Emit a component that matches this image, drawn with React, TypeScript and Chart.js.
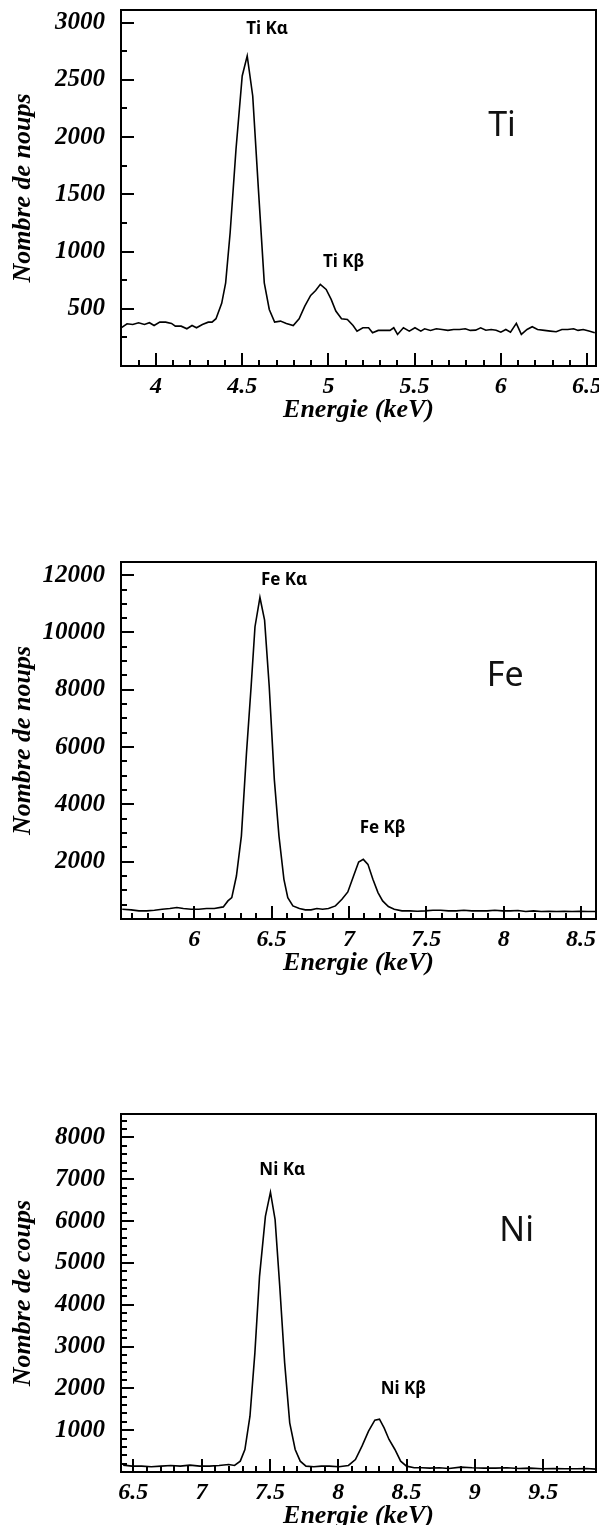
import React, { useEffect, useRef } from 'react';
import { Chart, registerables } from 'chart.js';

Chart.register(...registerables);

// ---------- Ti spectrum ----------
const TI_ENERGY = [3.798, 3.832, 3.865, 3.899, 3.933, 3.962, 3.989, 4.022, 4.056, 4.09, 4.112, 4.146, 4.179, 4.209, 4.235, 4.269, 4.303, 4.325, 4.348, 4.381, 4.404, 4.43, 4.464, 4.5, 4.529, 4.561, 4.594, 4.628, 4.657, 4.688, 4.722, 4.756, 4.796, 4.83, 4.863, 4.897, 4.926, 4.953, 4.987, 5.016, 5.043, 5.076, 5.11, 5.143, 5.166, 5.2, 5.233, 5.256, 5.289, 5.323, 5.357, 5.379, 5.401, 5.435, 5.469, 5.502, 5.536, 5.558, 5.592, 5.626, 5.659, 5.693, 5.726, 5.76, 5.794, 5.823, 5.854, 5.883, 5.913, 5.944, 5.973, 6.0, 6.029, 6.056, 6.09, 6.119, 6.152, 6.182, 6.213, 6.253, 6.287, 6.321, 6.354, 6.388, 6.422, 6.448, 6.478, 6.511, 6.545];
const TI_COUNTS = [334, 369, 363, 378, 363, 378, 354, 383, 383, 372, 348, 348, 325, 354, 334, 363, 383, 383, 413, 547, 727, 1164, 1893, 2534, 2709, 2359, 1543, 727, 494, 383, 392, 372, 354, 413, 523, 617, 660, 713, 669, 582, 480, 413, 407, 354, 305, 334, 334, 290, 311, 311, 311, 334, 276, 334, 305, 334, 305, 325, 311, 325, 319, 311, 319, 319, 325, 311, 313, 334, 313, 319, 313, 296, 319, 296, 372, 276, 319, 343, 319, 311, 305, 299, 319, 319, 325, 311, 319, 305, 290];
const TI_X_TICKS = [4, 4.5, 5, 5.5, 6, 6.5];
const TI_Y_TICKS = [500, 1000, 1500, 2000, 2500, 3000];
const TI_PEAK_LABELS = ['Ti K\u03b1', 'Ti K\u03b2'];
const TI_PEAK_X = [4.644, 5.088];
const TI_PEAK_Y = [2943, 910];
const TI_ELEMENT = 'Ti';
const TI_ELEMENT_X = 6.007;
const TI_ELEMENT_Y = 2097;

// ---------- Fe spectrum ----------
const FE_ENERGY = [5.535, 5.593, 5.643, 5.693, 5.743, 5.793, 5.843, 5.888, 5.93, 5.98, 6.03, 6.08, 6.13, 6.188, 6.218, 6.243, 6.273, 6.305, 6.338, 6.368, 6.393, 6.425, 6.455, 6.485, 6.518, 6.548, 6.58, 6.605, 6.638, 6.68, 6.718, 6.755, 6.793, 6.83, 6.868, 6.913, 6.955, 6.993, 7.03, 7.063, 7.093, 7.123, 7.155, 7.188, 7.218, 7.255, 7.293, 7.343, 7.393, 7.443, 7.493, 7.543, 7.593, 7.643, 7.693, 7.743, 7.793, 7.843, 7.893, 7.943, 7.993, 8.043, 8.093, 8.143, 8.193, 8.243, 8.293, 8.343, 8.393, 8.443, 8.493, 8.543, 8.593];
const FE_COUNTS = [341, 318, 283, 283, 306, 341, 364, 399, 364, 341, 341, 364, 364, 422, 631, 747, 1501, 2893, 5793, 8113, 10201, 11222, 10433, 8113, 4865, 2893, 1385, 747, 457, 364, 318, 318, 364, 341, 364, 457, 689, 944, 1501, 1988, 2081, 1907, 1385, 921, 631, 434, 341, 283, 283, 272, 283, 306, 306, 283, 283, 306, 283, 283, 283, 306, 283, 283, 295, 260, 283, 260, 272, 260, 272, 260, 272, 260, 260];
const FE_X_TICKS = [6, 6.5, 7, 7.5, 8, 8.5];
const FE_Y_TICKS = [2000, 4000, 6000, 8000, 10000, 12000];
const FE_PEAK_LABELS = ['Fe K\u03b1', 'Fe K\u03b2'];
const FE_PEAK_X = [6.581, 7.218];
const FE_PEAK_Y = [11840, 3184];
const FE_ELEMENT = 'Fe';
const FE_ELEMENT_X = 8.01;
const FE_ELEMENT_Y = 8460;

// ---------- Ni spectrum ----------
const NI_ENERGY = [6.426, 6.491, 6.561, 6.632, 6.703, 6.774, 6.844, 6.915, 6.986, 7.057, 7.127, 7.198, 7.241, 7.283, 7.317, 7.354, 7.39, 7.424, 7.467, 7.504, 7.538, 7.572, 7.608, 7.645, 7.685, 7.722, 7.764, 7.821, 7.877, 7.934, 8.005, 8.075, 8.126, 8.174, 8.222, 8.268, 8.302, 8.336, 8.372, 8.415, 8.457, 8.5, 8.556, 8.613, 8.67, 8.74, 8.811, 8.896, 8.981, 9.066, 9.151, 9.235, 9.32, 9.405, 9.49, 9.575, 9.66, 9.745, 9.816, 9.887];
const NI_COUNTS = [164, 140, 140, 124, 140, 156, 140, 164, 140, 140, 156, 180, 156, 259, 538, 1334, 2848, 4679, 6113, 6690, 6033, 4440, 2609, 1175, 538, 259, 140, 124, 140, 140, 124, 156, 299, 618, 976, 1239, 1262, 1056, 777, 538, 259, 140, 100, 100, 92, 100, 84, 116, 100, 92, 92, 100, 84, 92, 76, 84, 76, 76, 84, 68];
const NI_X_TICKS = [6.5, 7, 7.5, 8, 8.5, 9, 9.5];
const NI_Y_TICKS = [1000, 2000, 3000, 4000, 5000, 6000, 7000, 8000];
const NI_PEAK_LABELS = ['Ni K\u03b1', 'Ni K\u03b2'];
const NI_PEAK_X = [7.59, 8.477];
const NI_PEAK_Y = [7210, 1971];
const NI_ELEMENT = 'Ni';
const NI_ELEMENT_X = 9.306;
const NI_ELEMENT_Y = 5753;

const SERIF = '"Liberation Serif", "Times New Roman", serif';

type Panel = {
  energy: number[];
  counts: number[];
  xMin: number;
  xMax: number;
  yMax: number;
  xTicks: number[];
  yTicks: number[];
  xMinor: number;
  yMinor: number;
  yTitle: string;
  peakLabels: string[];
  peakX: number[];
  peakY: number[];
  element: string;
  elementX: number;
  elementY: number;
  height: number;
  padTop: number;
  padBottom: number;
};

const PANELS: Panel[] = [
  {
    energy: TI_ENERGY, counts: TI_COUNTS, xMin: 3.797, xMax: 6.552, yMax: 3110,
    xTicks: TI_X_TICKS, yTicks: TI_Y_TICKS, xMinor: 0.1, yMinor: 250,
    yTitle: 'Nombre de noups', peakLabels: TI_PEAK_LABELS, peakX: TI_PEAK_X, peakY: TI_PEAK_Y,
    element: TI_ELEMENT, elementX: TI_ELEMENT_X, elementY: TI_ELEMENT_Y,
    height: 552, padTop: 2, padBottom: 134,
  },
  {
    energy: FE_ENERGY, counts: FE_COUNTS, xMin: 5.527, xMax: 8.597, yMax: 12460,
    xTicks: FE_X_TICKS, yTicks: FE_Y_TICKS, xMinor: 0.1, yMinor: 500,
    yTitle: 'Nombre de noups', peakLabels: FE_PEAK_LABELS, peakX: FE_PEAK_X, peakY: FE_PEAK_Y,
    element: FE_ELEMENT, elementX: FE_ELEMENT_X, elementY: FE_ELEMENT_Y,
    height: 552, padTop: 2, padBottom: 133,
  },
  {
    energy: NI_ENERGY, counts: NI_COUNTS, xMin: 6.41, xMax: 9.887, yMax: 8560,
    xTicks: NI_X_TICKS, yTicks: NI_Y_TICKS, xMinor: 0.1, yMinor: 200,
    yTitle: 'Nombre de coups', peakLabels: NI_PEAK_LABELS, peakX: NI_PEAK_X, peakY: NI_PEAK_Y,
    element: NI_ELEMENT, elementX: NI_ELEMENT_X, elementY: NI_ELEMENT_Y,
    height: 421, padTop: 2, padBottom: 1,
  },
];

function zeroPadding(s: any) {
  s.paddingTop = 0;
  s.paddingBottom = 0;
  s.paddingLeft = 0;
  s.paddingRight = 0;
}

function makeFramePlugin(p: Panel) {
  return {
    id: 'frameAndTicks',
    afterDraw(chart: any) {
      const { ctx, chartArea } = chart;
      const xs = chart.scales.x;
      const ys = chart.scales.y;
      const { left, right, top, bottom } = chartArea;
      ctx.save();
      ctx.strokeStyle = '#000';
      ctx.lineWidth = 2;
      // inward ticks on the bottom axis
      const startX = Math.ceil(p.xMin / p.xMinor - 1e-6);
      for (let k = startX; k * p.xMinor <= p.xMax + 1e-9; k++) {
        const v = k * p.xMinor;
        const major = Math.abs(v / 0.5 - Math.round(v / 0.5)) < 1e-6;
        const px = Math.round(xs.getPixelForValue(v));
        if (px <= left + 1 || px >= right - 1) continue;
        ctx.beginPath();
        ctx.moveTo(px, bottom);
        ctx.lineTo(px, bottom - (major ? 13 : 6));
        ctx.stroke();
      }
      // inward ticks on the left axis
      const majorStep = p.yTicks[1] - p.yTicks[0];
      for (let k = 1; k * p.yMinor <= p.yMax; k++) {
        const v = k * p.yMinor;
        const major = Math.abs(v / majorStep - Math.round(v / majorStep)) < 1e-6;
        const py = Math.round(ys.getPixelForValue(v));
        if (py <= top + 1) continue;
        ctx.beginPath();
        ctx.moveTo(left, py);
        ctx.lineTo(left + (major ? 13 : 6), py);
        ctx.stroke();
      }
      // frame
      ctx.lineWidth = 2;
      ctx.strokeRect(left, top, right - left, bottom - top);
      // peak labels
      ctx.fillStyle = '#000';
      ctx.textAlign = 'center';
      ctx.textBaseline = 'middle';
      ctx.font = 'bold 17px "Noto Sans", sans-serif';
      p.peakLabels.forEach((t, i) => {
        ctx.fillText(t, xs.getPixelForValue(p.peakX[i]), ys.getPixelForValue(p.peakY[i]));
      });
      // element label
      ctx.font = '34px "Noto Sans", sans-serif';
      ctx.fillStyle = '#111';
      ctx.fillText(p.element, xs.getPixelForValue(p.elementX), ys.getPixelForValue(p.elementY));
      ctx.restore();
    },
  };
}

function SpectrumChart({ panel }: { panel: Panel }) {
  const ref = useRef<HTMLCanvasElement>(null);
  useEffect(() => {
    const canvas = ref.current;
    if (!canvas) return;
    const tickFont = { family: SERIF, size: 24, style: 'italic' as const, weight: 'bold' as const };
    const titleFont = { family: SERIF, size: 26, style: 'italic' as const, weight: 'bold' as const };
    const chart = new Chart(canvas, {
      type: 'line',
      data: {
        datasets: [
          {
            data: panel.energy.map((e, i) => ({ x: e, y: panel.counts[i] })),
            borderColor: '#000',
            borderWidth: 1.6,
            pointRadius: 0,
            fill: false,
            tension: 0,
          },
        ],
      },
      options: {
        responsive: false,
        animation: false,
        events: [],
        layout: { padding: { left: 0, top: panel.padTop, right: 3, bottom: panel.padBottom } },
        plugins: { legend: { display: false }, tooltip: { enabled: false } },
        scales: {
          x: {
            type: 'linear',
            min: panel.xMin,
            max: panel.xMax,
            afterBuildTicks: (s: any) => {
              s.ticks = panel.xTicks.map((v) => ({ value: v }));
            },
            afterFit: (s: any) => {
              s.height = 60;
              zeroPadding(s);
            },
            grid: { display: false, drawTicks: false },
            border: { display: false },
            ticks: {
              font: tickFont,
              color: '#000',
              padding: 6,
              maxRotation: 0,
              autoSkip: false,
              callback: (v: any) => String(v),
            },
            title: { display: true, text: 'Energie (keV)', font: titleFont, color: '#000', padding: 0 },
          },
          y: {
            type: 'linear',
            min: 0,
            max: panel.yMax,
            afterBuildTicks: (s: any) => {
              s.ticks = panel.yTicks.map((v) => ({ value: v }));
            },
            afterFit: (s: any) => {
              s.width = 113;
              zeroPadding(s);
            },
            grid: { display: false, drawTicks: false },
            border: { display: false },
            ticks: {
              font: { ...tickFont, size: 25 },
              color: '#000',
              padding: 16,
              autoSkip: false,
              callback: (v: any) => String(v),
            },
            title: { display: true, text: panel.yTitle, font: titleFont, color: '#000', padding: 0 },
          },
        },
      },
      plugins: [makeFramePlugin(panel)],
    } as any);
    return () => chart.destroy();
  }, [panel]);
  return <canvas ref={ref} width={591} height={panel.height} style={{ display: 'block' }} />;
}

export default function App() {
  useEffect(() => {
    document.documentElement.style.overflow = 'hidden';
  }, []);
  return (
    <div style={{ width: 591, marginBottom: -8, background: '#fff' }}>
      {PANELS.map((p, i) => (
        <SpectrumChart key={i} panel={p} />
      ))}
    </div>
  );
}
